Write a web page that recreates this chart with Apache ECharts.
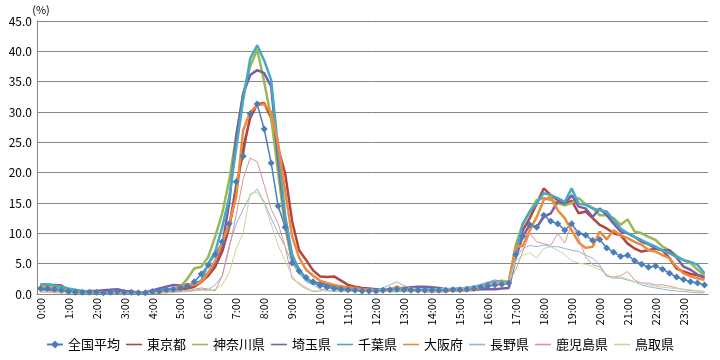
<!DOCTYPE html>
<html><head><meta charset="utf-8">
<script src="https://cdn.jsdelivr.net/npm/echarts/dist/echarts.min.js"></script>
<style>html,body{margin:0;padding:0;background:#fff}#c{width:720px;height:360px}</style>
</head><body><div id="c"></div>
<script>
// hour tick labels (categories are 15-minute slots)
const hourLabels = ['0:00','1:00','2:00','3:00','4:00','5:00','6:00','7:00','8:00','9:00','10:00','11:00',
  '12:00','13:00','14:00','15:00','16:00','17:00','18:00','19:00','20:00','21:00','22:00','23:00'];
const quarterSuffix = ['00','15','30','45'];
const yTicks = [0,5,10,15,20,25,30,35,40,45];

const seriesNames = ['全国平均','東京都','神奈川県','埼玉県','千葉県','大阪府','長野県','鹿児島県','鳥取県'];

const zenkoku = [
0.9,0.9,0.8,0.6,0.4,0.3,0.3,0.3,
0.3,0.2,0.3,0.4,0.3,0.3,0.2,0.2,
0.4,0.5,0.7,0.8,1.0,1.3,2.0,3.3,
4.8,6.5,8.6,11.6,18.5,22.7,29.7,31.3,
27.2,21.6,14.5,11.0,5.1,3.8,2.7,2.0,
1.4,1.1,0.9,0.8,0.7,0.6,0.5,0.5,
0.5,0.6,0.7,0.8,0.7,0.6,0.6,0.6,
0.6,0.6,0.6,0.7,0.7,0.8,0.9,1.1,
1.3,1.5,1.6,1.8,6.5,9.5,11.4,11.0,
13.0,12.0,11.6,10.5,11.6,10.0,9.7,8.8,
9.0,7.6,6.9,6.2,6.4,5.5,4.9,4.4,
4.6,4.1,3.4,2.8,2.4,2.0,1.8,1.5];

const tokyo = [
1.5,1.5,1.5,1.4,0.5,0.4,0.3,0.3,
0.3,0.3,0.3,0.3,0.2,0.2,0.2,0.2,
0.2,0.3,0.5,0.7,0.8,0.9,1.2,2.0,
3.0,4.5,7.0,11.0,17.0,24.0,29.0,31.3,
31.5,29.0,24.0,19.9,12.0,7.2,5.6,3.9,
2.9,2.8,2.9,2.2,1.5,1.2,1.0,0.9,
0.8,0.6,0.6,0.7,0.7,0.6,0.6,0.5,
0.5,0.5,0.5,0.6,0.6,0.6,0.7,0.9,
1.5,1.6,1.8,2.0,7.2,10.5,12.5,14.9,
17.4,16.3,15.5,14.7,15.4,13.3,13.6,12.5,
11.4,10.8,10.0,9.7,8.3,7.5,7.0,7.2,
7.5,7.2,5.9,4.2,3.7,3.3,3.1,2.9];

const kanagawa = [
1.5,1.6,1.3,0.8,0.5,0.4,0.4,0.3,
0.3,0.2,0.2,0.3,0.3,0.3,0.2,0.2,
0.3,0.4,0.5,0.6,1.2,2.5,4.2,4.5,
6.1,9.5,13.3,18.8,26.0,33.0,37.5,40.3,
35.0,29.0,20.0,11.0,5.5,3.5,2.5,1.8,
1.5,1.3,1.2,1.0,0.9,0.8,0.8,0.7,
0.6,0.6,0.5,0.5,0.6,0.6,0.6,0.7,
0.7,0.8,0.8,0.8,0.9,1.0,1.1,1.3,
1.7,2.0,2.2,2.0,8.1,11.6,13.6,15.5,
15.8,15.5,15.0,14.6,15.0,15.8,14.8,14.2,
13.0,13.0,12.5,11.4,12.3,10.3,10.0,9.4,
8.9,7.8,7.2,6.3,5.6,5.1,4.0,3.1];

const saitama = [
0.8,0.7,0.6,0.5,0.4,0.4,0.4,0.5,
0.5,0.6,0.7,0.8,0.5,0.4,0.3,0.3,
0.6,0.9,1.2,1.5,1.4,1.3,1.5,2.0,
3.5,5.0,8.0,15.0,26.0,33.0,36.1,36.9,
36.4,34.2,22.0,12.0,6.0,4.0,2.5,1.8,
1.8,1.5,1.2,1.0,1.0,0.9,0.8,0.7,
0.7,0.7,0.8,0.9,1.0,1.1,1.2,1.2,
1.1,1.0,0.8,0.7,0.7,0.7,0.7,0.8,
0.8,0.8,0.9,1.0,6.0,9.5,11.4,11.0,
12.7,13.3,15.2,14.9,16.3,14.4,14.1,12.7,
14.1,13.0,11.6,10.3,10.0,9.4,8.6,8.2,
7.5,7.2,7.2,6.0,4.5,4.0,3.2,2.6];

const chiba = [
1.6,1.6,1.4,1.2,0.9,0.7,0.5,0.4,
0.3,0.3,0.3,0.3,0.3,0.3,0.3,0.3,
0.4,0.5,0.7,0.9,1.0,1.3,1.6,2.2,
5.0,7.0,11.0,16.0,24.0,32.0,38.8,41.0,
38.5,35.3,24.0,13.0,6.5,4.0,2.5,1.8,
1.5,1.2,1.0,0.9,0.8,0.7,0.6,0.6,
0.5,0.5,0.6,0.6,0.6,0.6,0.7,0.7,
0.7,0.7,0.8,0.8,0.9,1.0,1.2,1.4,
1.8,2.2,2.0,1.6,6.5,11.5,13.5,15.0,
16.6,16.3,15.8,15.2,17.4,14.9,14.7,14.1,
13.8,13.6,12.2,10.8,10.0,9.4,8.9,8.3,
7.8,7.2,6.7,6.1,5.6,5.3,4.8,3.4];

const osaka = [
1.0,1.1,0.9,0.5,0.3,0.3,0.3,0.3,
0.3,0.3,0.2,0.2,0.2,0.2,0.2,0.2,
0.2,0.3,0.4,0.6,1.4,1.6,1.5,2.0,
3.5,5.5,8.5,11.5,16.0,27.0,30.0,31.1,
31.3,30.0,24.8,17.0,9.5,6.0,4.0,3.0,
2.2,1.8,1.5,1.3,1.1,1.0,0.8,0.7,
0.6,0.6,0.7,1.2,0.8,0.6,0.5,0.5,
0.5,0.5,0.5,0.6,0.6,0.7,0.8,1.0,
1.5,1.8,1.9,1.8,7.8,7.9,10.5,12.7,
15.5,16.0,13.8,12.5,10.5,8.5,7.6,7.8,
10.3,9.0,10.5,9.7,9.2,8.6,8.1,7.2,
7.0,6.4,5.9,4.5,3.4,2.9,2.6,2.3];

const nagano = [
0.5,0.5,0.4,0.3,0.3,0.2,0.2,0.2,
0.2,0.2,0.2,0.2,0.2,0.2,0.2,0.2,
0.2,0.3,0.3,0.4,0.5,0.5,0.6,0.8,
0.7,1.5,3.0,8.0,11.5,14.0,16.2,17.3,
15.2,12.5,10.0,7.8,5.0,3.5,2.0,1.5,
0.8,0.6,0.5,0.5,0.6,0.8,0.7,0.6,
0.6,1.0,1.5,2.0,1.4,1.0,0.9,0.8,
0.8,0.9,0.9,1.0,1.0,1.1,1.3,1.6,
2.0,2.2,1.8,2.0,6.0,7.5,8.0,7.8,
8.1,7.8,7.8,7.5,7.2,7.0,6.4,5.9,
4.8,3.0,2.6,2.6,2.3,2.0,1.5,1.2,
1.0,0.8,0.6,0.5,0.4,0.3,0.2,0.2];

const kagoshima = [
0.3,0.3,0.2,0.2,0.2,0.2,0.2,0.2,
0.2,0.2,0.2,0.2,0.2,0.2,0.2,0.2,
0.2,0.2,0.2,0.3,0.4,0.5,0.8,1.0,
0.8,0.5,3.0,7.5,13.0,19.0,22.4,21.8,
18.0,14.0,11.6,7.8,2.5,1.8,1.0,0.4,
0.5,1.0,0.8,0.6,0.5,0.5,0.4,0.4,
0.4,0.5,0.6,0.7,0.6,0.5,0.5,0.5,
0.5,0.6,0.6,0.7,0.8,0.9,1.0,1.2,
1.5,1.8,2.0,2.0,4.0,7.0,10.0,8.6,
8.3,8.0,10.0,8.4,11.6,9.2,6.1,4.8,
4.5,2.9,2.8,3.0,3.7,2.3,1.8,1.8,
1.5,1.5,1.3,1.0,0.7,0.6,0.5,0.4];

const tottori = [
0.4,0.4,0.3,0.3,0.2,0.2,0.2,0.2,
0.2,0.2,0.2,0.2,0.2,0.2,0.2,0.2,
0.2,0.2,0.2,0.2,0.3,0.4,0.5,0.6,
0.5,0.8,1.5,3.5,7.5,10.0,16.6,16.8,
15.0,11.5,8.0,5.5,3.0,1.5,0.8,0.5,
0.5,0.5,0.4,0.4,0.4,0.4,0.4,0.4,
0.3,0.4,0.5,0.6,0.6,0.5,0.5,0.5,
0.5,0.5,0.6,0.7,0.8,0.9,1.0,1.2,
1.5,1.6,1.7,1.8,5.5,6.4,6.8,5.9,
7.5,7.8,7.2,6.5,5.5,5.1,4.9,4.5,
4.0,3.3,2.6,2.8,2.5,2.0,1.8,1.5,
1.3,1.1,1.0,0.9,0.8,0.7,0.5,0.4];

const values = [zenkoku, tokyo, kanagawa, saitama, chiba, osaka, nagano, kagoshima, tottori];
const colors = ['#4A7EBB','#B4443F','#98B954','#7D60A0','#46AAC5','#F08A3A','#95B3D7','#D99694','#C3D69B'];
const widths = [1.5, 2.5, 2.5, 2.5, 2.5, 2.5, 1, 1, 1];

const categories = [];
hourLabels.forEach(h => { const hh = h.split(':')[0]; quarterSuffix.forEach(q => categories.push(hh + ':' + q)); });

const chart = echarts.init(document.getElementById('c'), null, {renderer: 'canvas'});
const font = '"Noto Sans CJK JP", "Noto Sans", sans-serif';
chart.setOption({
  animation: false,
  color: colors,
  grid: {left: 37, right: 12, top: 21, bottom: 66, containLabel: false},
  legend: {
    data: seriesNames.map(function(n, i){ return {name: n, icon: i === 0 ? undefined : 'path://M0,0 L10,0 L10,1 L0,1 Z'}; }),
    top: 333, left: 'center', itemWidth: 16, itemHeight: 10, itemGap: 6,
    textStyle: {fontSize: 13, color: '#000', fontFamily: font}
  },
  xAxis: {
    type: 'category', data: categories, boundaryGap: true,
    axisLine: {lineStyle: {color: '#868686', width: 1}},
    axisTick: {interval: 0, length: 4, lineStyle: {color: '#868686'}},
    axisLabel: {
      interval: function(idx){ return idx % 4 === 0; },
      formatter: function(v){ return v.endsWith(':00') ? v : ''; },
      rotate: 90, margin: 4, fontSize: 11, color: '#000', fontFamily: font
    },
    splitLine: {show: false}
  },
  yAxis: {
    type: 'value', min: yTicks[0], max: yTicks[yTicks.length-1], interval: 5,
    name: '(%)', nameLocation: 'end', nameGap: 6,
    nameTextStyle: {fontSize: 11, color: '#000', fontFamily: font, align: 'center', padding: [0,0,0,8]},
    axisLine: {show: true, lineStyle: {color: '#868686', width: 1}},
    axisTick: {show: false},
    axisLabel: {formatter: function(v){ return v.toFixed(1); }, fontSize: 12, color: '#000', margin: 5, fontFamily: font},
    splitLine: {lineStyle: {color: '#868686', width: 1}}
  },
  series: seriesNames.map(function(n, i){
    return {
      name: n, type: 'line', data: values[i],
      symbol: i === 0 ? 'diamond' : 'none', symbolSize: 7, showSymbol: i === 0, showAllSymbol: true,
      lineStyle: {width: widths[i], color: colors[i]},
      itemStyle: {color: colors[i]},
      emphasis: {disabled: true}
    };
  })
});
</script></body></html>
